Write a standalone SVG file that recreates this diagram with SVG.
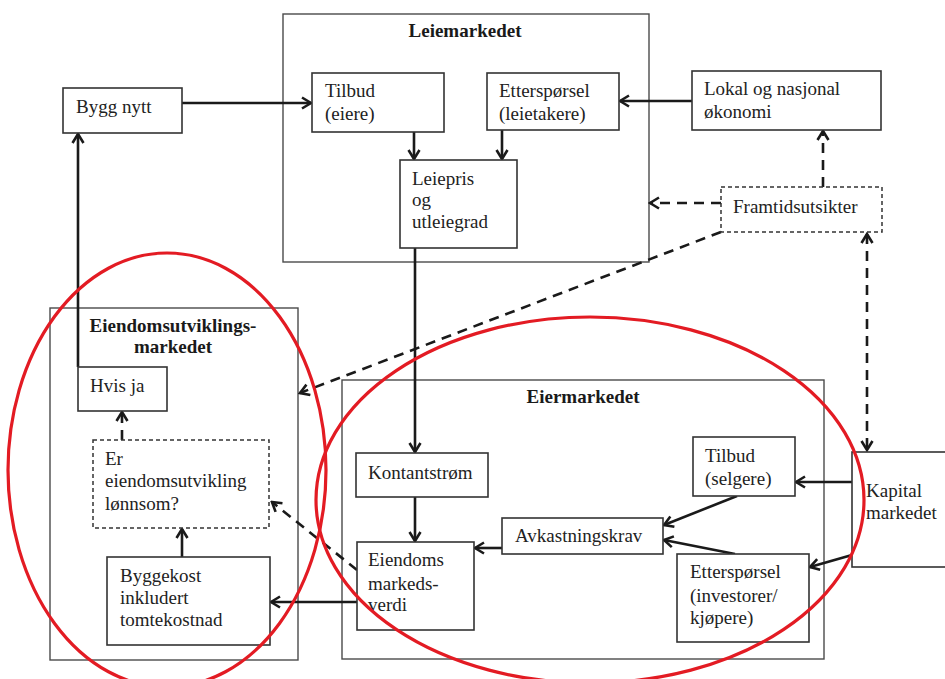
<svg xmlns="http://www.w3.org/2000/svg" width="945" height="679" viewBox="0 0 945 679">
<defs>
<style>
.bg{fill:#ffffff}
.cont{fill:none;stroke:#4a4a4a;stroke-width:1.4}
.box{fill:#ffffff;stroke:#333333;stroke-width:1.6}
.dbox{fill:#ffffff;stroke:#333333;stroke-width:1.5;stroke-dasharray:4 3}
.t{font-family:"Liberation Serif","Times New Roman",serif;font-size:19px;fill:#222222}
.tb{font-family:"Liberation Serif","Times New Roman",serif;font-size:19px;font-weight:bold;fill:#1a1a1a}
.c{fill:none;stroke:#1a1a1a;stroke-width:2.6}
.cd{fill:none;stroke:#1a1a1a;stroke-width:2.6;stroke-dasharray:10 7}
.ell{fill:none;stroke:#e31b23;stroke-width:3.2}
</style>
<marker id="ah" markerUnits="userSpaceOnUse" markerWidth="14" markerHeight="14" viewBox="0 0 14 14" refX="12" refY="7" orient="auto">
<path d="M3,1.5 L12,7 L3,12.5" fill="none" stroke="#1a1a1a" stroke-width="2.6"/>
</marker>
<marker id="ahs" markerUnits="userSpaceOnUse" markerWidth="14" markerHeight="14" viewBox="0 0 14 14" refX="12" refY="7" orient="auto-start-reverse">
<path d="M3,1.5 L12,7 L3,12.5" fill="none" stroke="#1a1a1a" stroke-width="2.6"/>
</marker>
</defs>
<rect class="bg" x="0" y="0" width="945" height="679"/>

<g id="leiemarkedet">
<rect class="cont" x="283" y="14" width="366" height="248"/>
<text class="tb" x="465" y="37" text-anchor="middle">Leiemarkedet</text>
</g>
<g id="eiendomsutviklingsmarkedet">
<rect class="cont" x="50" y="308" width="248" height="352"/>
<text class="tb" x="173" y="332" text-anchor="middle">Eiendomsutviklings-</text>
<text class="tb" x="173" y="353" text-anchor="middle">markedet</text>
</g>
<g id="eiermarkedet">
<rect class="cont" x="342" y="380" width="482" height="279"/>
<text class="tb" x="583" y="403" text-anchor="middle">Eiermarkedet</text>
</g>

<g id="connectors">
<path class="c" d="M182,103 H311" marker-end="url(#ah)"/>
<path class="c" d="M414,132 V159" marker-end="url(#ah)"/>
<path class="c" d="M502,130 V159" marker-end="url(#ah)"/>
<path class="c" d="M692,101 H620" marker-end="url(#ah)"/>
<path class="c" d="M415,248 V452" marker-end="url(#ah)"/>
<path class="c" d="M415,497 V541" marker-end="url(#ah)"/>
<path class="c" d="M502,548 H475" marker-end="url(#ah)"/>
<path class="c" d="M737,496 L664,525" marker-end="url(#ah)"/>
<path class="c" d="M735,554 L664,540" marker-end="url(#ah)"/>
<path class="c" d="M852,482 H796" marker-end="url(#ah)"/>
<path class="c" d="M852,555 L810,567" marker-end="url(#ah)"/>
<path class="c" d="M357,602 H271" marker-end="url(#ah)"/>
<path class="c" d="M182,557 V529" marker-end="url(#ah)"/>
<path class="c" d="M78,367 V134" marker-end="url(#ah)"/>
<path class="cd" d="M122,440 V412" marker-end="url(#ah)"/>
<path class="cd" d="M357,570 L272,502" marker-end="url(#ah)"/>
<path class="cd" d="M721,203 H650" marker-end="url(#ah)"/>
<path class="cd" d="M823,187 V131" marker-end="url(#ah)"/>
<path class="cd" d="M867,234 V450" marker-start="url(#ahs)" marker-end="url(#ahs)"/>
<path class="cd" d="M721,232 L300,393" marker-end="url(#ah)"/>
</g>

<g id="bygg-nytt">
<rect class="box" x="63" y="88" width="119" height="45"/>
<text class="t" x="76" y="113">Bygg nytt</text>
</g>
<g id="tilbud-eiere">
<rect class="box" x="312" y="73" width="132" height="59"/>
<text class="t" x="325" y="97">Tilbud</text>
<text class="t" x="325" y="120">(eiere)</text>
</g>
<g id="ettersporsel-leietakere">
<rect class="box" x="487" y="73" width="132" height="57"/>
<text class="t" x="499" y="97">Etterspørsel</text>
<text class="t" x="499" y="120">(leietakere)</text>
</g>
<g id="leiepris">
<rect class="box" x="400" y="160" width="117" height="88"/>
<text class="t" x="412" y="185">Leiepris</text>
<text class="t" x="412" y="206">og</text>
<text class="t" x="412" y="228">utleiegrad</text>
</g>
<g id="lokal-okonomi">
<rect class="box" x="692" y="71" width="189" height="59"/>
<text class="t" x="704" y="95">Lokal og nasjonal</text>
<text class="t" x="704" y="118">økonomi</text>
</g>
<g id="framtidsutsikter">
<rect class="dbox" x="721" y="187" width="161" height="45"/>
<text class="t" x="733" y="213">Framtidsutsikter</text>
</g>
<g id="hvis-ja">
<rect class="box" x="78" y="367" width="89" height="44"/>
<text class="t" x="90" y="392">Hvis ja</text>
</g>
<g id="lonnsom">
<rect class="dbox" x="93" y="440" width="176" height="88"/>
<text class="t" x="105" y="465">Er</text>
<text class="t" x="105" y="487">eiendomsutvikling</text>
<text class="t" x="105" y="510">lønnsom?</text>
</g>
<g id="byggekost">
<rect class="box" x="107" y="557" width="163" height="88"/>
<text class="t" x="120" y="582">Byggekost</text>
<text class="t" x="120" y="604">inkludert</text>
<text class="t" x="120" y="626">tomtekostnad</text>
</g>
<g id="kontantstrom">
<rect class="box" x="356" y="453" width="132" height="44"/>
<text class="t" x="368" y="479">Kontantstrøm</text>
</g>
<g id="eiendoms-markedsverdi">
<rect class="box" x="357" y="542" width="117" height="88"/>
<text class="t" x="368" y="566">Eiendoms</text>
<text class="t" x="368" y="590">markeds-</text>
<text class="t" x="368" y="611">verdi</text>
</g>
<g id="avkastningskrav">
<rect class="box" x="502" y="518" width="161" height="36"/>
<text class="t" x="515" y="542">Avkastningskrav</text>
</g>
<g id="tilbud-selgere">
<rect class="box" x="693" y="437" width="102" height="59"/>
<text class="t" x="705" y="462">Tilbud</text>
<text class="t" x="705" y="485">(selgere)</text>
</g>
<g id="ettersporsel-investorer">
<rect class="box" x="677" y="554" width="132" height="88"/>
<text class="t" x="690" y="578">Etterspørsel</text>
<text class="t" x="690" y="602">(investorer/</text>
<text class="t" x="690" y="624">kjøpere)</text>
</g>
<g id="kapitalmarkedet">
<rect class="box" x="852" y="452" width="100" height="115"/>
<text class="t" x="866" y="497">Kapital</text>
<text class="t" x="866" y="519">markedet</text>
</g>

<g id="highlights">
<ellipse class="ell" cx="167" cy="470" rx="159" ry="217"/>
<ellipse class="ell" cx="590" cy="500" rx="274" ry="183"/>
</g>
</svg>
